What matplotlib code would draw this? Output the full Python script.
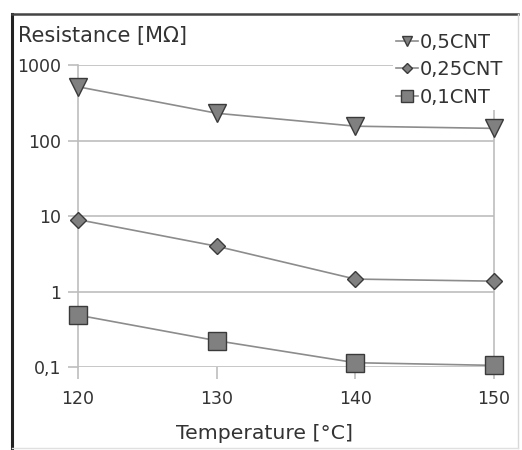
import matplotlib
matplotlib.use("Agg")
import matplotlib.pyplot as plt
from matplotlib.lines import Line2D

# data
temperature = [120, 130, 140, 150]
r_05cnt = [515, 230, 155, 145]
r_025cnt = [9.0, 4.0, 1.47, 1.38]
r_01cnt = [0.49, 0.225, 0.115, 0.106]
series_labels = ["0,5CNT", "0,25CNT", "0,1CNT"]
y_ticks = [0.1, 1, 10, 100, 1000]
y_ticklabels = ["0,1", "1", "10", "100", "1000"]
x_ticks = [120, 130, 140, 150]

W, H = 522, 450
plt.rcParams["font.family"] = ["DejaVu Sans"]

fig = plt.figure(figsize=(W / 100, H / 100), dpi=100)
ax = fig.add_axes([78 / W, 1 - 367.3 / H, 416 / W, 302.3 / H])

grid_c = "#bdbdbd"
line_c = "#8c8c8c"
face_c = "#808080"
edge_c = "#3a3a3a"

ax.set_yscale("log")
ax.set_xlim(120, 150)
ax.set_ylim(0.1, 1000)

# only horizontal gridlines; the plot area has grey side borders
ax.grid(True, axis="y", color=grid_c, lw=1.2, zorder=0)
ax.spines["top"].set_visible(False)
ax.spines["bottom"].set_visible(False)
for side in ("left", "right"):
    ax.spines[side].set_color(grid_c)
    ax.spines[side].set_linewidth(1.2)

ax.set_yticks(y_ticks)
ax.set_yticklabels(y_ticklabels)
ax.yaxis.set_minor_locator(matplotlib.ticker.NullLocator())
ax.set_xticks(x_ticks)
ax.tick_params(axis="y", length=7.2, width=1.2, color=grid_c, pad=5, labelsize=12.5, labelcolor="#333333")
ax.tick_params(axis="x", length=8.6, width=1.2, color=grid_c, pad=8, labelsize=12.5, labelcolor="#333333")

marker_kw = dict(color=line_c, lw=1.2, markerfacecolor=face_c, markeredgecolor=edge_c,
                 markeredgewidth=1.0, clip_on=False, zorder=3)
ax.plot(temperature, r_05cnt, marker="v", markersize=12.5, label=series_labels[0], **marker_kw)
ax.plot(temperature, r_025cnt, marker="D", markersize=8.5, label=series_labels[1], **marker_kw)
ax.plot(temperature, r_01cnt, marker="s", markersize=13.5, label=series_labels[2], **marker_kw)

leg = ax.legend(loc="upper left", bbox_to_anchor=(393 / W, 1 - 30 / H),
                bbox_transform=fig.transFigure, fontsize=14, markerscale=0.62,
                handlelength=1.15, handletextpad=0.1, labelspacing=0.43,
                borderpad=0.15, borderaxespad=0, frameon=True, fancybox=False,
                framealpha=1, facecolor="white", edgecolor="none")
for t in leg.get_texts():
    t.set_color("#333333")

fig.text(18 / W, 1 - 42 / H, "Resistance [M\u03a9]", fontsize=15, color="#333333",
         ha="left", va="baseline")
fig.text(264 / W, 1 - 439 / H, "Temperature [\u00b0C]", fontsize=14.7, color="#333333",
         ha="center", va="baseline")

# outer frame
fig.add_artist(Line2D([12 / W, 12 / W], [0, 1 - 14 / H], color="#222222", lw=2.2))
fig.add_artist(Line2D([12 / W, 518 / W], [1 - 14 / H, 1 - 14 / H], color="#444444", lw=1.8))
fig.add_artist(Line2D([518 / W, 518 / W], [2 / H, 1 - 14 / H], color="#d8d8d8", lw=1))
fig.add_artist(Line2D([12 / W, 518 / W], [2 / H, 2 / H], color="#e0e0e0", lw=1))

fig.savefig("out.png", dpi=100)
